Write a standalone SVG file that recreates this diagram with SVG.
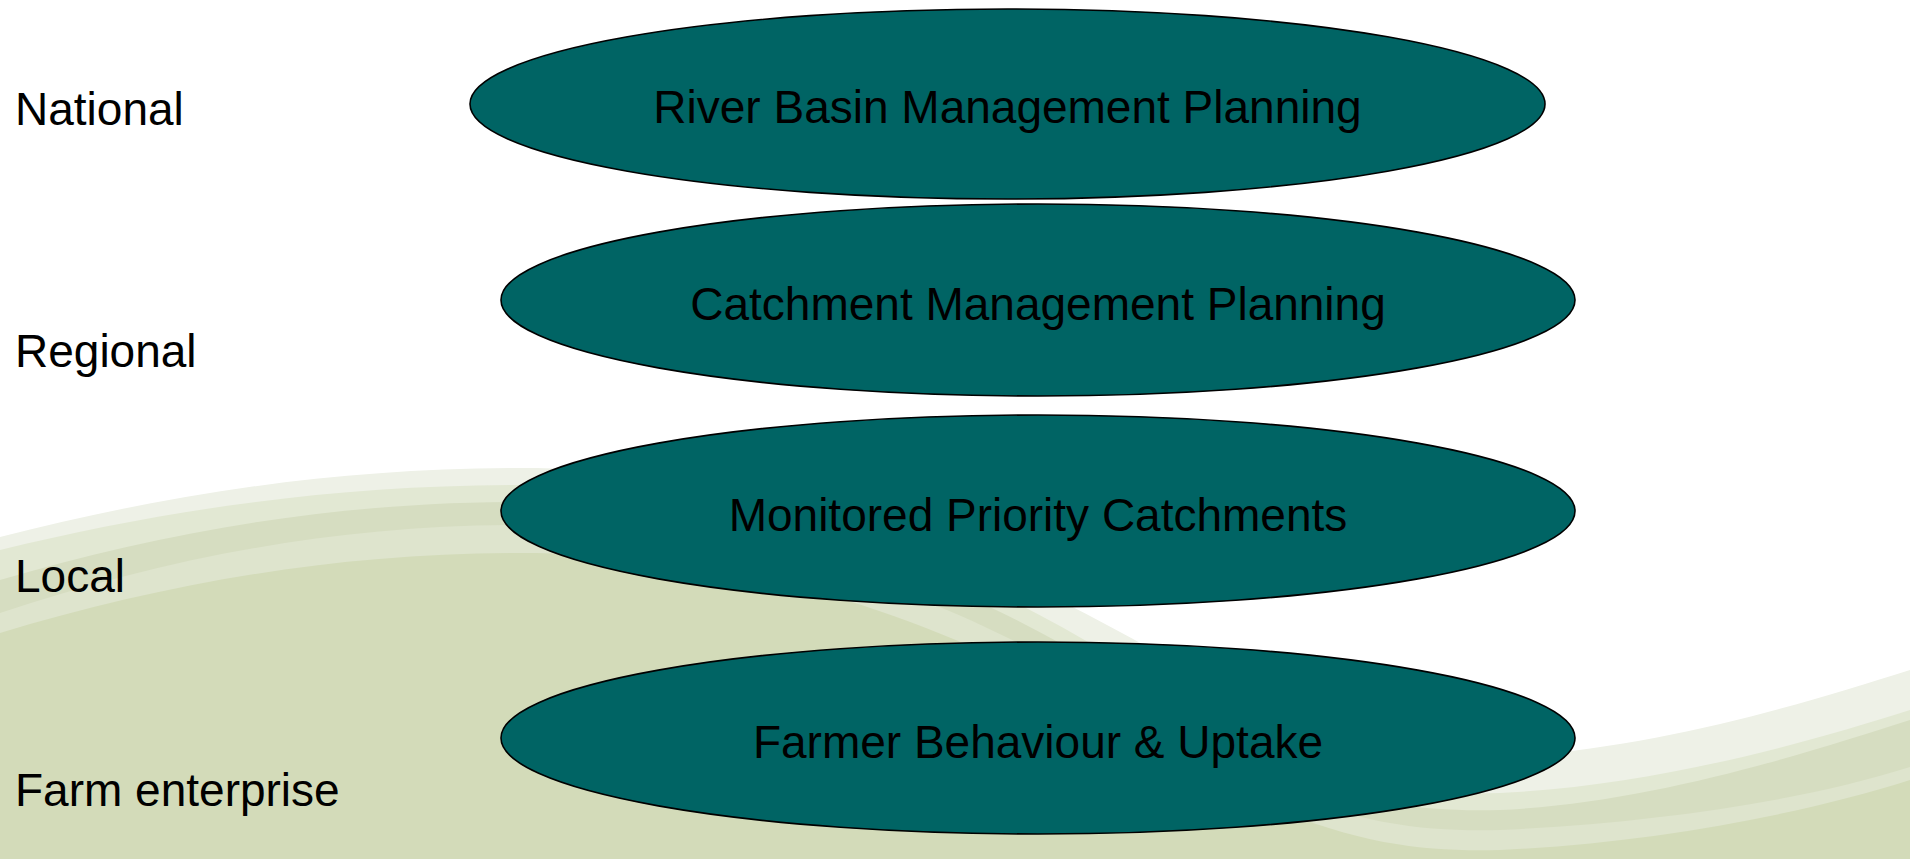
<svg xmlns="http://www.w3.org/2000/svg" width="1910" height="859" viewBox="0 0 1910 859">
  <defs>
    <style>
      .lvl { font-family: "Liberation Sans", Arial, sans-serif; font-size: 46px; fill: #000; }
      .box { fill: #006464; stroke: #000; stroke-width: 1.6; }
      .lbl { font-family: "Liberation Sans", Arial, sans-serif; font-size: 46px; fill: #000; text-anchor: middle; }
    </style>
  </defs>

  <!-- backdrop: stacked rolling bands, lightest at the back -->
  <rect width="1910" height="859" fill="#ffffff"/>
  <g id="backdrop">
    <path fill="#eef1e7" d="M0,537 C160,496 330,468 520,468 C800,468 1000,560 1200,677 C1330,752 1420,759 1500,757 C1650,750 1800,705 1910,670 V900 H0 Z"/>
    <path fill="#e2e8d3" d="M0,550 C160,511 330,485 520,485 C800,485 1000,577 1200,713 C1330,788 1420,795 1500,793 C1650,786 1800,745 1910,710 V900 H0 Z"/>
    <path fill="#d6ddc1" d="M0,580 C160,533 330,502 520,502 C800,502 1000,594 1200,730 C1330,805 1420,812 1500,810 C1650,803 1800,755 1910,720 V900 H0 Z"/>
    <path fill="#dee4cd" d="M0,613 C160,560 330,525 520,525 C800,525 1000,617 1200,750 C1330,825 1420,832 1500,830 C1650,823 1800,802 1910,767 V900 H0 Z"/>
    <path fill="#d3dbb9" d="M0,633 C160,585 330,553 520,553 C800,553 1000,645 1200,770 C1330,845 1420,852 1500,850 C1650,843 1800,815 1910,780 V900 H0 Z"/>
  </g>

  <!-- scale labels -->
  <g id="levels">
    <text class="lvl" x="15" y="125">National</text>
    <text class="lvl" x="15" y="367">Regional</text>
    <text class="lvl" x="15" y="592">Local</text>
    <text class="lvl" x="15" y="806">Farm enterprise</text>
  </g>

  <g id="connectors"></g>

  <g id="node-rbmp">
    <ellipse class="box" cx="1007.5" cy="104" rx="537.5" ry="95"/>
    <text class="lbl" x="1007.5" y="123">River Basin Management Planning</text>
  </g>
  <g id="node-cmp">
    <ellipse class="box" cx="1038" cy="300" rx="537" ry="96"/>
    <text class="lbl" x="1038" y="319.5">Catchment Management Planning</text>
  </g>
  <g id="node-mpc">
    <ellipse class="box" cx="1038" cy="511" rx="537" ry="96"/>
    <text class="lbl" x="1038" y="530.5">Monitored Priority Catchments</text>
  </g>
  <g id="node-fbu">
    <ellipse class="box" cx="1038" cy="738" rx="537" ry="96"/>
    <text class="lbl" x="1038" y="757.5">Farmer Behaviour &amp; Uptake</text>
  </g>
</svg>
